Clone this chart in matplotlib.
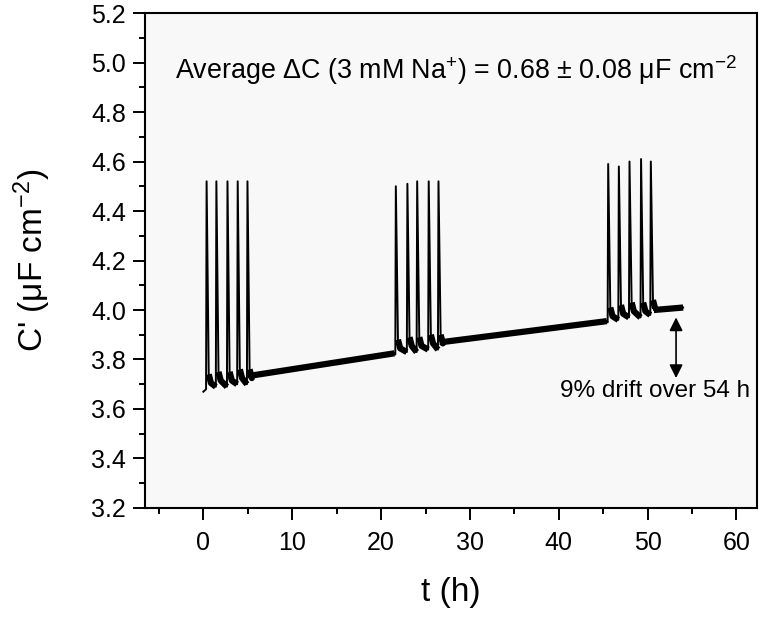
import matplotlib
matplotlib.use("Agg")
import matplotlib.pyplot as plt
from matplotlib.ticker import MultipleLocator, FormatStrFormatter

plt.rcParams['font.family'] = ['Liberation Sans', 'DejaVu Sans']
plt.rcParams['mathtext.fontset'] = 'custom'
plt.rcParams['mathtext.rm'] = 'Liberation Sans'
plt.rcParams['mathtext.default'] = 'regular'

# spike groups (Na+ additions): start time (h), peak C', foot level before spike
g1_t = [0.3, 1.4, 2.65, 3.8, 4.9]
g1_peak = [4.52, 4.52, 4.52, 4.52, 4.52]
g1_base = [3.68, 3.69, 3.69, 3.70, 3.70]

g2_t = [21.6, 22.9, 24.0, 25.3, 26.4]
g2_peak = [4.50, 4.51, 4.52, 4.52, 4.52]
g2_base = [3.82, 3.83, 3.83, 3.84, 3.84]

g3_t = [45.5, 46.7, 47.9, 49.2, 50.3]
g3_peak = [4.59, 4.58, 4.60, 4.61, 4.60]
g3_base = [3.95, 3.96, 3.97, 3.97, 3.98]

# slow drift of the baseline between groups
drift_t = [[5.4, 21.5], [26.8, 45.4], [50.7, 54.0]]
drift_c = [[3.735, 3.825], [3.87, 3.955], [4.0, 4.01]]

start_t, start_c = 0.0, 3.67

groups = [(g1_t, g1_peak, g1_base), (g2_t, g2_peak, g2_base),
          (g3_t, g3_peak, g3_base)]

# build the trace polyline
tt = [start_t]
cc = [start_c]
feet = []
for (ts, pk, bs), dt, dc in zip(groups, drift_t, drift_c):
    for i in range(len(ts)):
        tt += [ts[i], ts[i] + 0.06, ts[i] + 0.3, ts[i] + 0.55]
        cc += [bs[i], pk[i], bs[i] + 0.06, bs[i] + 0.025]
        if i + 1 < len(ts):
            nxt = (ts[i + 1], bs[i + 1])
        else:
            nxt = (dt[0], dc[0])
        feet.append(([ts[i] + 0.3, ts[i] + 0.55, nxt[0]],
                     [bs[i] + 0.06, bs[i] + 0.025, nxt[1]]))
    tt += dt
    cc += dc
    feet.append((dt, dc))

fig = plt.figure(figsize=(7.70, 6.21), dpi=100)
ax = fig.add_axes([0.188, 0.182, 0.795, 0.797])
ax.set_facecolor('#f8f8f8')

ax.plot(tt, cc, color='black', lw=1.4)
for ft, fc in feet:
    ax.plot(ft, fc, color='black', lw=4.5, solid_capstyle='butt')

ax.set_xlim(-6.6, 62.3)
ax.set_ylim(3.2, 5.2)
ax.xaxis.set_major_locator(MultipleLocator(10))
ax.xaxis.set_minor_locator(MultipleLocator(5))
ax.yaxis.set_major_locator(MultipleLocator(0.2))
ax.yaxis.set_minor_locator(MultipleLocator(0.1))
ax.yaxis.set_major_formatter(FormatStrFormatter('%.1f'))

ax.tick_params(which='both', direction='out', width=1.4, labelsize=18)
ax.tick_params(which='major', length=8.5)
ax.tick_params(which='minor', length=4.5)
ax.tick_params(axis='x', which='major', pad=8)
ax.tick_params(axis='y', which='major', pad=5)
for s in ax.spines.values():
    s.set_linewidth(1.5)

ax.set_xlabel('t (h)', fontsize=24)
ax.set_ylabel("C' (\u03bcF cm$^{-2}$)", fontsize=24)
ax.xaxis.set_label_coords(0.5, -0.14)
ax.yaxis.set_label_coords(-0.15, 0.5)

ax.text(-3.2, 4.97,
        'Average \u0394C (3 mM Na$^{+}$) = 0.68 \u00b1 0.08 \u03bcF cm$^{-2}$',
        ha='left', va='center', fontsize=19.4)

ax.annotate('', xy=(53.2, 3.97), xytext=(53.2, 3.725),
            arrowprops=dict(arrowstyle='<|-|>', color='black', lw=1.2,
                            mutation_scale=20, shrinkA=0, shrinkB=0))
ax.text(61.5, 3.673, '9% drift over 54 h', ha='right', va='center',
        fontsize=17.5)

fig.savefig('out.png', dpi=100)
